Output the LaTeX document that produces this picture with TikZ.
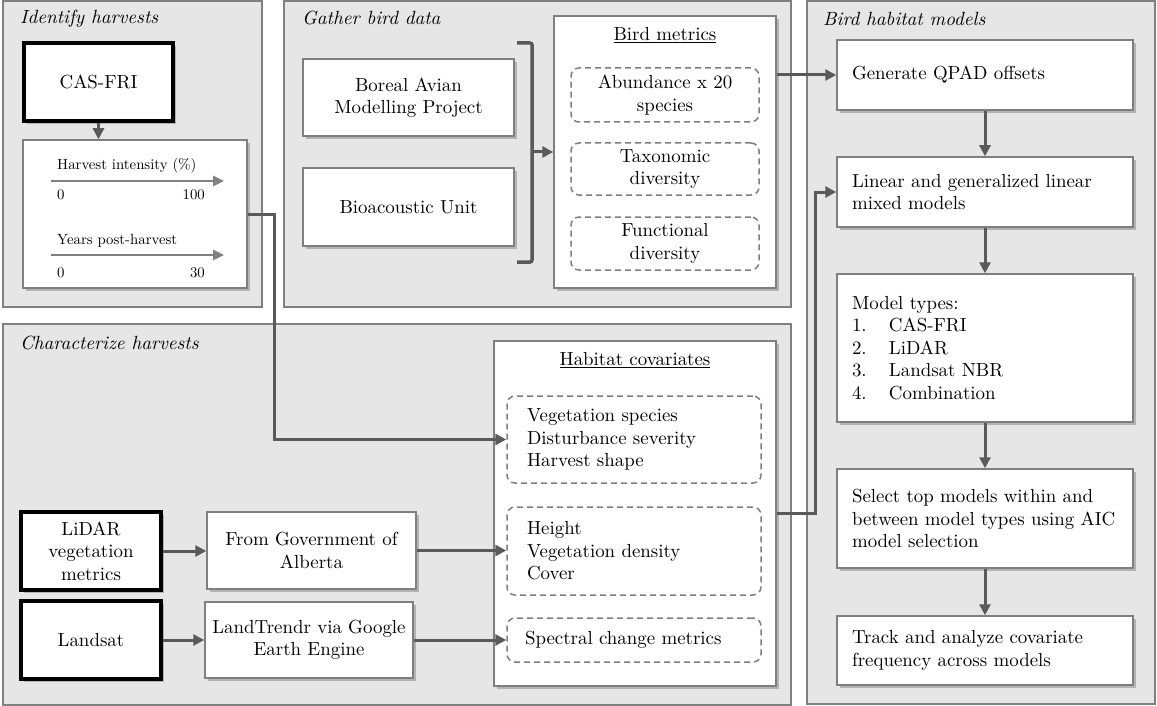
\documentclass[tikz,border=0pt]{standalone}
\usepackage{fontspec}
\setmainfont{lmroman10-regular.otf}[ItalicFont=lmroman10-italic.otf, BoldFont=lmroman10-bold.otf]
\usetikzlibrary{arrows.meta,shadows,calc}
\definecolor{panelfill}{HTML}{E6E6E6}
\definecolor{panelline}{HTML}{808080}
\definecolor{boxline}{HTML}{7F7F7F}
\definecolor{connc}{HTML}{5A5A5A}
\definecolor{axisc}{HTML}{808080}
\begin{document}
\begin{tikzpicture}[x=1pt,y=-1pt,
  font=\fontsize{18.9}{22.5}\selectfont,
  panel/.style={draw=panelline, line width=1.5pt, fill=panelfill},
  ptitle/.style={anchor=west, font=\fontsize{19.1}{22.5}\selectfont\itshape, inner sep=0pt},
  shad/.style={drop shadow={shadow xshift=2.5pt, shadow yshift=-3pt, opacity=0.22, fill=black}},
  box/.style={draw=boxline, line width=1.5pt, fill=white, shad, inner sep=0pt, align=center},
  srcbox/.style={draw=black, line width=3.5pt, fill=white, shad, inner sep=0pt, align=center},
  lbox/.style={draw=boxline, line width=1.5pt, fill=white, shad, inner xsep=15pt, inner ysep=0pt, text width=266pt, minimum width=296pt, align=left},
  dbox/.style={draw=boxline, line width=1.5pt, dash pattern=on 6pt off 4pt, rounded corners=8pt, fill=white, inner sep=0pt, align=center},
  hbox/.style={draw=boxline, line width=1.5pt, dash pattern=on 6pt off 4pt, rounded corners=8pt, fill=white, inner xsep=20pt, inner ysep=0pt, text width=214pt, minimum width=254pt, align=left},
  conn/.style={draw=connc, line width=3pt, -{Triangle[length=11pt,width=11pt]}},
  axisarrow/.style={draw=axisc, line width=2.5pt, -{Triangle[length=11pt,width=10pt]}},
  small/.style={font=\fontsize{14.8}{17}\selectfont, inner sep=0pt}
]
\useasboundingbox (0,0) rectangle (1157,706);

% panels
\draw[panel] (3,1) rectangle (262,307);
\draw[panel] (284,1) rectangle (791,307);
\draw[panel] (807,1) rectangle (1155,704);
\draw[panel] (3,324) rectangle (791,705);
\node[ptitle] (t1) at (20,19) {Identify harvests};
\node[ptitle] (t2) at (302,18) {Gather bird data};
\node[ptitle] (t3) at (823,19) {Bird habitat models};
\node[ptitle] (t4) at (20,343) {Characterize harvests};

% Identify harvests
\node[srcbox, minimum width=149pt, minimum height=78pt] (cas) at (98.5,82) {CAS-FRI};
\node[box, minimum width=224pt, minimum height=148pt] (hb) at (135,214) {};
\node[small, anchor=base west] (hi) at (57,169) {Harvest intensity (\%)};
\draw[axisarrow] (51,181) -- (224,181);
\node[small, anchor=base west] (h0) at (57,200) {0};
\node[small, anchor=base east] (h100) at (205,200) {100};
\node[small, anchor=base west] (yp) at (57,244) {Years post-harvest};
\draw[axisarrow] (51,255) -- (224,255);
\node[small, anchor=base west] (y0) at (57,277) {0};
\node[small, anchor=base east] (y30) at (205,277) {30};
\draw[conn] (cas.south) -- (cas.south |- hb.north);

% Gather bird data
\node[box, minimum width=211pt, minimum height=77pt] (bam) at (408.5,97.5) {Boreal Avian\\Modelling Project};
\node[box, minimum width=211pt, minimum height=78pt] (bu) at (408.5,207) {Bioacoustic Unit};
\draw[draw=connc, line width=3.5pt, rounded corners=2pt] (517,43) -- (532,43) -- (532,262) -- (517,262);
\coordinate (brk) at (532,152);
\node[box, minimum width=222pt, minimum height=272pt] (bm) at (665,152) {};
\node[inner sep=0pt] (bmt) at (665,35) {\underline{Bird metrics}};
\node[dbox, minimum width=188pt, minimum height=54pt] (b1) at (665,95) {Abundance x 20\\species};
\node[dbox, minimum width=188pt, minimum height=52pt] (b2) at (665,169) {Taxonomic\\diversity};
\node[dbox, minimum width=188pt, minimum height=53pt] (b3) at (665,243.5) {Functional\\diversity};
\draw[conn] (brk) -- (bm.west);

% Bird habitat models
\node[lbox, minimum height=70pt] (qpad) at (985,75) {Generate QPAD offsets};
\node[lbox, minimum height=70pt] (lin) at (985,192) {Linear~and~generalized~linear\\mixed models};
\node[lbox, minimum height=148pt] (mt) at (985,348) {Model types:\\\makebox[37pt][l]{1.}CAS-FRI\\\makebox[37pt][l]{2.}LiDAR\\\makebox[37pt][l]{3.}Landsat NBR\\\makebox[37pt][l]{4.}Combination};
\node[lbox, minimum height=99pt] (sel) at (985,518.5) {Select~top~models~within~and\\between~model~types~using~AIC\\model selection};
\node[lbox, minimum height=69pt] (trk) at (985,650.5) {Track~and~analyze~covariate\\frequency across models};
\draw[conn] (qpad.south) -- (lin.north);
\draw[conn] (lin.south) -- (mt.north);
\draw[conn] (mt.south) -- (sel.north);
\draw[conn] (sel.south) -- (trk.north);
\draw[conn] (qpad.west -| bm.east) -- (qpad.west);

% Characterize harvests
\node[box, minimum width=282pt, minimum height=345pt] (hc) at (635,513.5) {};
\node[inner sep=0pt] (hct) at (635,360) {\underline{Habitat covariates}};
\node[hbox, minimum height=87pt] (hc1) at (634,439.5) {Vegetation species\\Disturbance severity\\Harvest shape};
\node[hbox, minimum height=88pt] (hc2) at (634,551) {Height\\Vegetation density\\Cover};
\node[hbox, minimum height=44pt, inner xsep=18pt, text width=218pt] (hc3) at (634,640) {Spectral change metrics};
\node[srcbox, minimum width=140pt, minimum height=78pt] (lid) at (91,551) {LiDAR\\vegetation\\metrics};
\node[srcbox, minimum width=140pt, minimum height=78pt] (ls) at (91,640) {Landsat};
\node[box, minimum width=209pt, minimum height=77pt] (gov) at (311.5,550.5) {From Government of\\Alberta};
\node[box, minimum width=208pt, minimum height=76pt] (lt) at (309,640) {LandTrendr via Google\\Earth Engine};
\draw[conn] (lid.east) -- (lid.east -| gov.west);
\draw[conn] (gov.east) -- (gov.east -| hc2.west);
\draw[conn] (ls.east) -- (lt.west);
\draw[conn] (lt.east) -- (lt.east -| hc3.west);

% long connectors
\draw[conn] (hb.east) -- ++(27,0) |- (hc1.west);
\coordinate (j2) at (815,0);
\draw[conn] (hc.east) -- (hc.east -| j2) |- (lin.west);
\end{tikzpicture}
\end{document}
